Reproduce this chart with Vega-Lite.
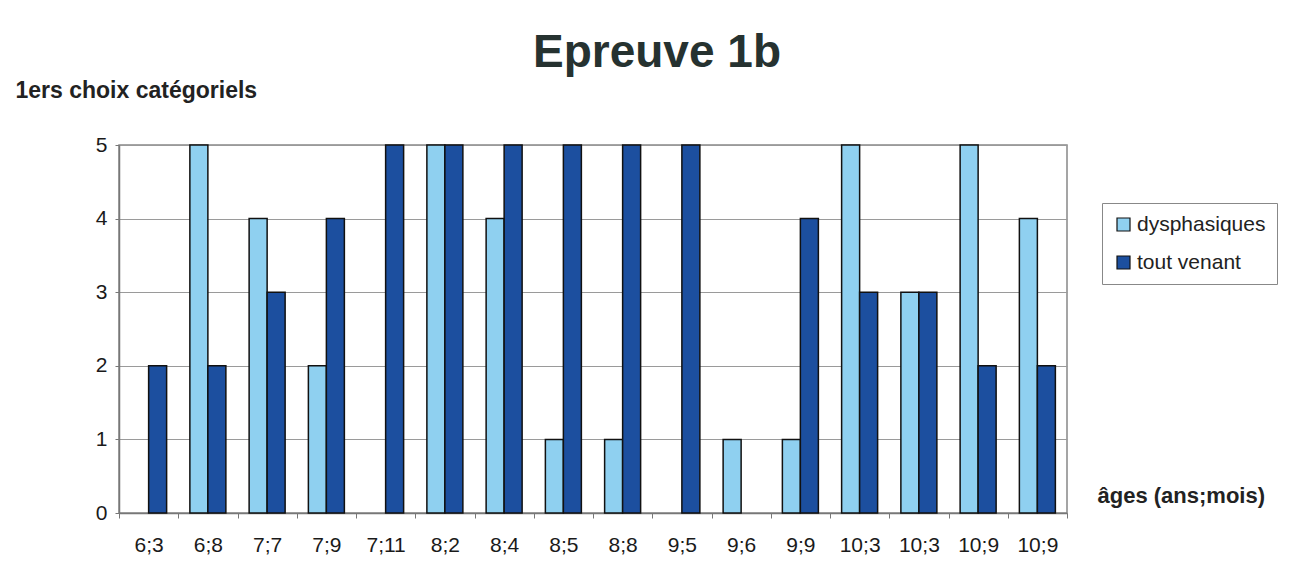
{
  "$schema": "https://vega.github.io/schema/vega-lite/v6.json",
  "autosize": "none",
  "width": 948,
  "height": 368,
  "padding": {"left": 119, "top": 145, "right": 225, "bottom": 69},
  "background": "white",
  "title": {
    "text": "Epreuve 1b",
    "font": "Liberation Sans",
    "fontSize": 46,
    "fontWeight": "bold",
    "color": "#263230",
    "anchor": "middle",
    "frame": "group",
    "dx": 64,
    "baseline": "alphabetic",
    "offset": -34
  },
  "data": {
    "values": [
      {"age": "6;3", "serie": "dysphasiques", "valeur": 0},
      {"age": "6;3", "serie": "tout venant", "valeur": 2},
      {"age": "6;8", "serie": "dysphasiques", "valeur": 5},
      {"age": "6;8", "serie": "tout venant", "valeur": 2},
      {"age": "7;7", "serie": "dysphasiques", "valeur": 4},
      {"age": "7;7", "serie": "tout venant", "valeur": 3},
      {"age": "7;9", "serie": "dysphasiques", "valeur": 2},
      {"age": "7;9", "serie": "tout venant", "valeur": 4},
      {"age": "7;11", "serie": "dysphasiques", "valeur": 0},
      {"age": "7;11", "serie": "tout venant", "valeur": 5},
      {"age": "8;2", "serie": "dysphasiques", "valeur": 5},
      {"age": "8;2", "serie": "tout venant", "valeur": 5},
      {"age": "8;4", "serie": "dysphasiques", "valeur": 4},
      {"age": "8;4", "serie": "tout venant", "valeur": 5},
      {"age": "8;5", "serie": "dysphasiques", "valeur": 1},
      {"age": "8;5", "serie": "tout venant", "valeur": 5},
      {"age": "8;8", "serie": "dysphasiques", "valeur": 1},
      {"age": "8;8", "serie": "tout venant", "valeur": 5},
      {"age": "9;5", "serie": "dysphasiques", "valeur": 0},
      {"age": "9;5", "serie": "tout venant", "valeur": 5},
      {"age": "9;6", "serie": "dysphasiques", "valeur": 1},
      {"age": "9;6", "serie": "tout venant", "valeur": 0},
      {"age": "9;9", "serie": "dysphasiques", "valeur": 1},
      {"age": "9;9", "serie": "tout venant", "valeur": 4},
      {"age": "10;3", "serie": "dysphasiques", "valeur": 5},
      {"age": "10;3", "serie": "tout venant", "valeur": 3},
      {"age": "10;3 ", "serie": "dysphasiques", "valeur": 3},
      {"age": "10;3 ", "serie": "tout venant", "valeur": 3},
      {"age": "10;9", "serie": "dysphasiques", "valeur": 5},
      {"age": "10;9", "serie": "tout venant", "valeur": 2},
      {"age": "10;9 ", "serie": "dysphasiques", "valeur": 4},
      {"age": "10;9 ", "serie": "tout venant", "valeur": 2}
    ]
  },
  "mark": {"type": "bar", "stroke": "#111111", "strokeWidth": 1.5},
  "encoding": {
    "x": {
      "field": "age",
      "type": "nominal",
      "sort": null,
      "scale": {"paddingInner": 0, "paddingOuter": 0},
      "axis": {
        "title": "âges (ans;mois)",
        "titleFont": "Liberation Sans",
        "titleFontSize": 22,
        "titleFontWeight": "bold",
        "titleColor": "#222222",
        "titleAngle": 0,
        "titleX": 978,
        "titleY": -11,
        "titleAlign": "left",
        "titleBaseline": "alphabetic",
        "titleAnchor": null,
        "labelAngle": 0,
        "labelFont": "Liberation Sans",
        "labelFontSize": 21,
        "labelColor": "#1a1a1a",
        "labelPadding": 16,
        "bandPosition": 0,
        "tickBand": "extent",
        "tickSize": 5,
        "tickColor": "#777777",
        "domainColor": "#777777",
        "domainWidth": 1.5
      }
    },
    "xOffset": {
      "field": "serie",
      "type": "nominal",
      "scale": {"paddingInner": 0, "paddingOuter": 0.646}
    },
    "y": {
      "field": "valeur",
      "type": "quantitative",
      "scale": {"domain": [0, 5], "nice": false},
      "axis": {
        "values": [0, 1, 2, 3, 4, 5],
        "title": "1ers choix catégoriels",
        "titleFont": "Liberation Sans",
        "titleFontSize": 23,
        "titleFontWeight": "bold",
        "titleColor": "#222222",
        "titleAngle": 0,
        "titleX": -104,
        "titleY": -48,
        "titleAlign": "left",
        "titleBaseline": "alphabetic",
        "titleAnchor": null,
        "labelFont": "Liberation Sans",
        "labelFontSize": 21,
        "labelColor": "#1a1a1a",
        "labelPadding": 8,
        "tickSize": 4,
        "tickColor": "#777777",
        "domainColor": "#777777",
        "domainWidth": 1.5,
        "grid": true,
        "gridColor": "#9a9a9a",
        "gridWidth": 1
      }
    },
    "strokeOpacity": {
      "condition": {"test": "datum.valeur == 0", "value": 0},
      "value": 1
    },
    "color": {
      "field": "serie",
      "type": "nominal",
      "scale": {"domain": ["dysphasiques", "tout venant"], "range": ["#8fd0f0", "#1c4f9f"]},
      "legend": {
        "title": null,
        "orient": "none",
        "legendX": 983,
        "legendY": 58,
        "strokeColor": "#888888",
        "padding": 11,
        "symbolType": "square",
        "symbolSize": 169,
        "symbolStrokeColor": "#111111",
        "symbolStrokeWidth": 1.2,
        "labelFont": "Liberation Sans",
        "labelFontSize": 21,
        "labelColor": "#222222",
        "labelOffset": 3,
        "rowPadding": 16
      }
    }
  },
  "config": {
    "view": {"stroke": "#888888", "strokeWidth": 1.5}
  }
}
